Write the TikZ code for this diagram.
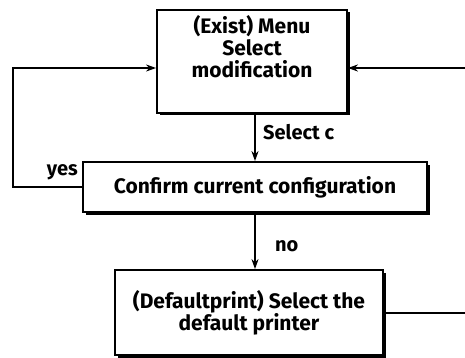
\documentclass[tikz,border=0pt]{standalone}
\usepackage{fontspec}
\setmainfont{Fira Sans}
\usetikzlibrary{arrows.meta}

\tikzset{
  stepbox/.style={draw, line width=1.8pt, fill=white, align=center, inner sep=0pt,
    font=\fontsize{21}{22}\selectfont\bfseries,
    preaction={fill=black, transform canvas={shift={(2.5pt,-2.5pt)}}}},
  flow/.style={line width=1.8pt, -{Stealth[length=10pt,width=7pt]}},
  lbl/.style={font=\fontsize{20}{22}\selectfont\bfseries, inner sep=0pt}
}

\begin{document}
\begin{tikzpicture}[x=1pt,y=-1pt]
\useasboundingbox (0,0) rectangle (465,358);

\node[stepbox, minimum width=190pt, minimum height=103pt, text depth=31pt] (menu) at (252,61.5) {(Exist) Menu\\Select\\modification};
\node[stepbox, minimum width=344pt, minimum height=50pt] (confirm) at (255,187) {Confirm current configuration};
\node[stepbox, minimum width=268pt, minimum height=85pt] (default) at (249,312.5) {(Defaultprint) Select the\\default printer};

\coordinate (loop) at (13,68);
\coordinate (inright) at (465,68);
\coordinate (outright) at (465,313);

\draw[flow] (confirm.west) -| (loop) -- (loop -| menu.west);
\draw[flow] (inright) -- (inright -| menu.east);
\draw[flow] (confirm.north |- menu.south) -- (confirm.north);
\draw[flow] (confirm.south) -- (confirm.south |- default.north);
\draw[line width=1.8pt] (default.east |- outright) -- (outright);

\node[lbl, anchor=west] (sel) at (263,132) {Select c};
\node[lbl, anchor=east] (yes) at (78,172) {yes};
\node[lbl, anchor=west] (no) at (275,246) {no};
\end{tikzpicture}
\end{document}
